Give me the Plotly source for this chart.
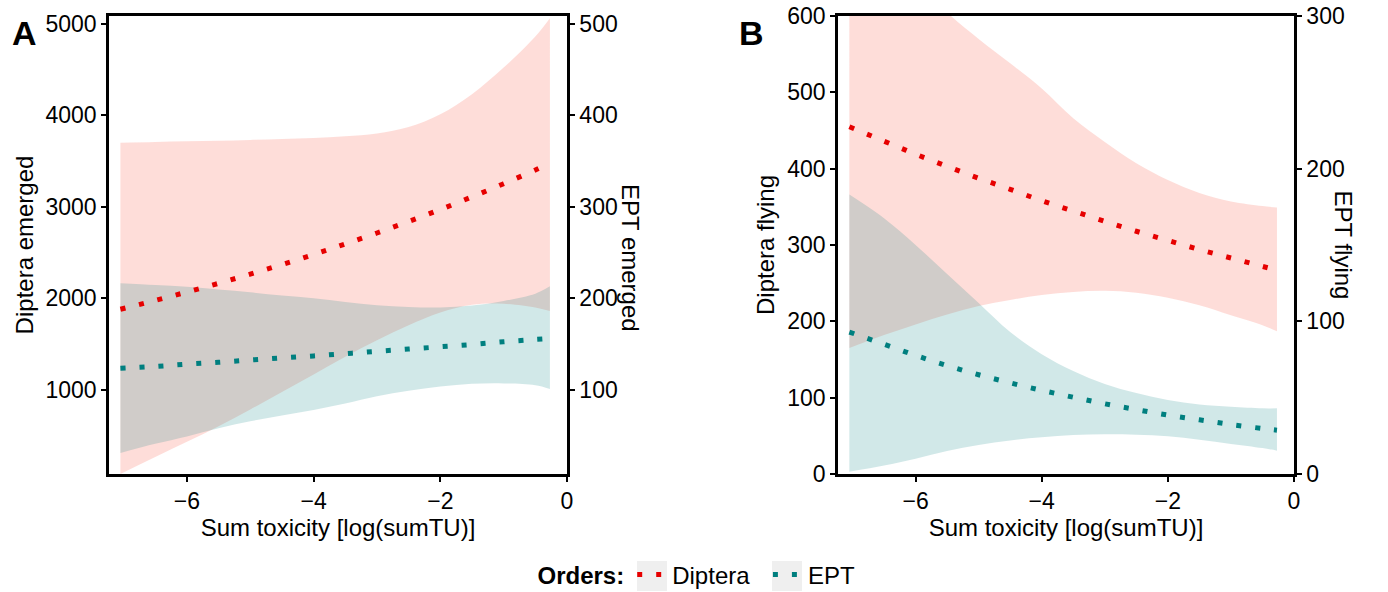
import plotly.graph_objects as go

# ---------------- data ----------------
x_grid = [-7.05, -6.5, -6, -5.5, -5, -4.5, -4, -3.5, -3, -2.5, -2, -1.5, -1, -0.5, -0.27]

# Panel A : emerged
dip_em_fit = [1880, 1976, 2068, 2163, 2264, 2368, 2478, 2593, 2713, 2839, 2970, 3108, 3252, 3402, 3478]
dip_em_lo = [80, 265, 432, 603, 785, 975, 1168, 1360, 1540, 1705, 1845, 1930, 1940, 1900, 1862]
dip_em_hi = [3700, 3708, 3715, 3722, 3730, 3740, 3752, 3770, 3800, 3870, 4010, 4230, 4520, 4860, 5060]
ept_em_fit = [123.5, 125.5, 128, 130, 132.5, 134.8, 137, 139.5, 142, 144.5, 147, 149.5, 152.5, 155, 156]
ept_em_lo = [31, 41, 49, 58, 65.5, 72, 78, 85, 93, 99, 103.5, 106.5, 107, 105, 101]
ept_em_hi = [216.5, 214.5, 212.5, 209.5, 206.5, 203, 200, 196, 192.5, 190.5, 190, 192, 197, 205, 213]

# Panel B : flying
dip_fl_fit = [455, 436, 419, 403, 387.5, 373, 358, 344.5, 331, 318, 306, 294, 283, 272, 267]
dip_fl_lo = [165, 182, 196, 209, 220, 228, 234.5, 238.5, 240, 237.5, 231, 221, 208, 195, 187]
dip_fl_hi = [780, 715, 655, 605, 570, 538, 505, 466, 435, 407, 385, 368, 357, 351, 349]
ept_fl_fit = [93, 85, 77.7, 71, 65, 59.7, 54.8, 50.3, 46, 42.2, 38.6, 35.5, 32.4, 29.8, 28.7]
ept_fl_lo = [1.5, 5.5, 10, 15, 19, 22, 24, 25.5, 26, 25.7, 24.7, 22.5, 19.7, 17, 15.3]
ept_fl_hi = [183, 167.5, 150, 131, 112, 93, 78.5, 67.5, 59, 53, 48.5, 45.5, 44, 43, 43]

x_ticks = [-6, -4, -2, 0]
yA_left_ticks = [1000, 2000, 3000, 4000, 5000]
yA_right_ticks = [100, 200, 300, 400, 500]
yB_left_ticks = [0, 100, 200, 300, 400, 500, 600]
yB_right_ticks = [0, 100, 200, 300]

# ---------------- styling ----------------
FONT = "Liberation Sans, Arial, sans-serif"
RED = "#e60000"
TEAL = "#007f7f"
PINK_FILL = "rgba(250,128,114,0.27)"
TEAL_FILL = "rgba(0,128,128,0.18)"
DOT = "5px,14px"
TICK_SIZE = 23
TITLE_SIZE = 24

fig = go.Figure()


def ribbon(x, lo, hi, color, xa, ya):
    fig.add_trace(go.Scatter(
        x=x, y=lo, mode="lines", line=dict(width=0, shape="spline"),
        hoverinfo="skip", showlegend=False, xaxis=xa, yaxis=ya))
    fig.add_trace(go.Scatter(
        x=x, y=hi, mode="lines", line=dict(width=0, shape="spline"),
        fill="tonexty", fillcolor=color,
        hoverinfo="skip", showlegend=False, xaxis=xa, yaxis=ya))


def fit(x, y, color, xa, ya):
    fig.add_trace(go.Scatter(
        x=x, y=y, mode="lines", line=dict(color=color, width=5, dash=DOT, shape="spline"),
        showlegend=False, xaxis=xa, yaxis=ya))


# Panel A
ribbon(x_grid, dip_em_lo, dip_em_hi, PINK_FILL, "x", "y")
ribbon(x_grid, ept_em_lo, ept_em_hi, TEAL_FILL, "x", "y2")
fit(x_grid, ept_em_fit, TEAL, "x", "y2")
fit(x_grid, dip_em_fit, RED, "x", "y5")
# Panel B
ribbon(x_grid, dip_fl_lo, dip_fl_hi, PINK_FILL, "x2", "y3")
ribbon(x_grid, ept_fl_lo, ept_fl_hi, TEAL_FILL, "x2", "y4")
fit(x_grid, ept_fl_fit, TEAL, "x2", "y4")
fit(x_grid, dip_fl_fit, RED, "x2", "y6")

# legend entries
fig.add_trace(go.Scatter(x=[None], y=[None], mode="lines", name="Diptera\u00a0\u00a0",
                         line=dict(color=RED, width=5, dash=DOT)))
fig.add_trace(go.Scatter(x=[None], y=[None], mode="lines", name="EPT",
                         line=dict(color=TEAL, width=5, dash=DOT)))

W, H = 1388, 592
A_L, A_R = 109, 567
B_L, B_R = 838, 1294
TOP, BOT = 16, 474

dom_y = [1 - BOT / H, 1 - TOP / H]
axis_common = dict(showline=True, linecolor="black", linewidth=2.5, ticks="outside",
                   tickcolor="black", ticklen=5, tickwidth=1.5, showgrid=False, zeroline=False,
                   automargin=False,
                   tickfont=dict(family=FONT, size=TICK_SIZE, color="black"))
xtitle = dict(text="Sum toxicity [log(sumTU)]", font=dict(size=TITLE_SIZE), standoff=4)


def px(xp, yp):
    return xp / W, 1 - yp / H


key_boxes = []
for kx in (637, 772):
    x0, y1 = px(kx, 561)
    x1, y0 = px(kx + 30, 591)
    key_boxes.append(dict(type="rect", xref="paper", yref="paper", x0=x0, x1=x1, y0=y0, y1=y1,
                          fillcolor="#efefef", line=dict(width=0), layer="below"))

fig.update_layout(
    template="none",
    width=W, height=H, margin=dict(l=0, r=0, t=0, b=0, autoexpand=False),
    paper_bgcolor="white", plot_bgcolor="rgba(0,0,0,0)",
    font=dict(family=FONT, size=TITLE_SIZE, color="black"),
    showlegend=True,
    xaxis=dict(domain=[A_L / W, A_R / W], range=[-7.23, 0], anchor="y", tickvals=x_ticks,
               mirror=True, title=xtitle, **axis_common),
    yaxis=dict(domain=dom_y, range=[80, 5084], anchor="x", tickvals=yA_left_ticks,
               title=dict(text="Diptera emerged", font=dict(size=TITLE_SIZE), standoff=6), **axis_common),
    yaxis2=dict(overlaying="y", side="right", anchor="x", range=[8, 508.4], tickvals=yA_right_ticks,
                **axis_common),
    yaxis5=dict(overlaying="y", anchor="x", range=[80, 5084], visible=False),
    xaxis2=dict(domain=[B_L / W, B_R / W], range=[-7.23, 0], anchor="y3", tickvals=x_ticks,
                mirror=True, title=xtitle, **axis_common),
    yaxis3=dict(domain=dom_y, range=[0, 600], anchor="x2", tickvals=yB_left_ticks,
                title=dict(text="Diptera flying", font=dict(size=TITLE_SIZE), standoff=6), **axis_common),
    yaxis4=dict(overlaying="y3", side="right", anchor="x2", range=[0, 300], tickvals=yB_right_ticks,
                **axis_common),
    yaxis6=dict(overlaying="y3", anchor="x2", range=[0, 600], visible=False),
    legend=dict(orientation="h", x=0.5 + 4 / W, xanchor="center", y=1 - 575 / H, yanchor="middle",
                traceorder="normal",
                title=dict(text="<b>Orders:</b>", font=dict(size=TITLE_SIZE)),
                font=dict(size=TITLE_SIZE), bgcolor="rgba(0,0,0,0)"),
    shapes=key_boxes,
    annotations=[
        dict(text="<b>A</b>", x=10 / W, y=1 - 33 / H, xref="paper", yref="paper",
             showarrow=False, font=dict(size=34), xanchor="left", yanchor="middle"),
        dict(text="<b>B</b>", x=737 / W, y=1 - 33 / H, xref="paper", yref="paper",
             showarrow=False, font=dict(size=34), xanchor="left", yanchor="middle"),
        dict(text="EPT emerged", x=630 / W, y=1 - 258 / H, xref="paper", yref="paper",
             textangle=90, showarrow=False, font=dict(size=TITLE_SIZE)),
        dict(text="EPT flying", x=1358 / W, y=1 - 245 / H, xref="paper", yref="paper",
             textangle=90, showarrow=False, font=dict(size=TITLE_SIZE)),
    ],
)

fig.write_html("out.html", config={"displayModeBar": False},
               post_script="document.body.style.margin='0px';")
